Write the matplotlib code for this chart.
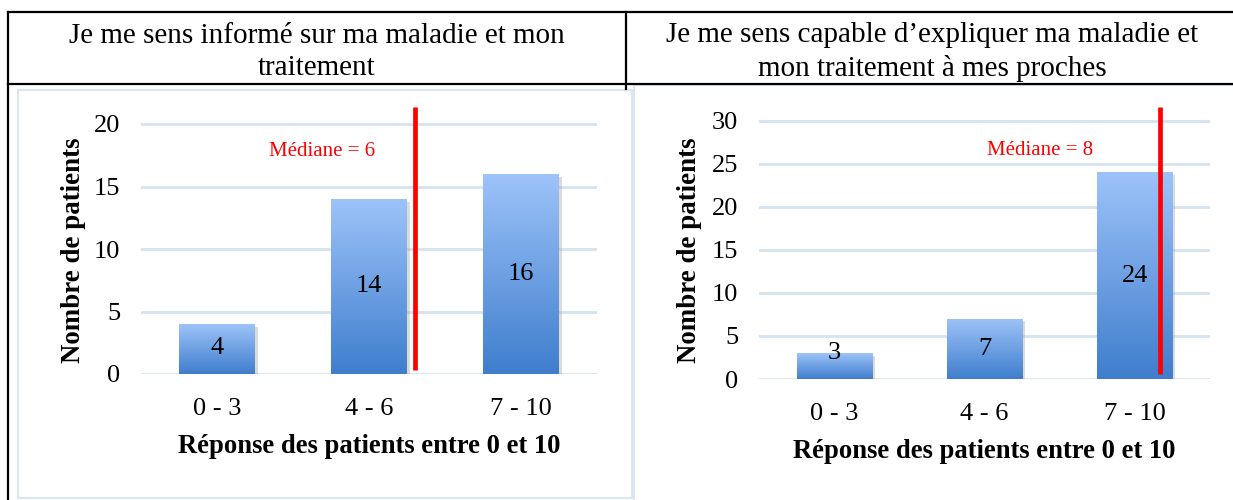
import numpy as np
import matplotlib
matplotlib.use("Agg")
import matplotlib.pyplot as plt
from matplotlib.lines import Line2D
from matplotlib.patches import Rectangle
from matplotlib.colors import LinearSegmentedColormap
import matplotlib.patheffects as pe

plt.rcParams["font.family"] = ["Liberation Serif", "DejaVu Serif"]

# données
categories = ["0 - 3", "4 - 6", "7 - 10"]
titles = ["Je me sens informé sur ma maladie et mon\ntraitement",
          "Je me sens capable d\u2019expliquer ma maladie et\nmon traitement à mes proches"]
counts_left = [4, 14, 16]
counts_right = [3, 7, 24]
medians = [6, 8]
median_x = [1.30, 2.17]      # position de la ligne rouge (en unités de catégories)
median_text_pos = [(0.69, 17.8), (1.37, 26.5)]
y_max = [21.6, 31.8]
y_ticks = [np.arange(0, 21, 5), np.arange(0, 31, 5)]

W, H = 1233, 500
fig = plt.figure(figsize=(W / 100, H / 100), dpi=100)


def fx(x):
    return x / W


def fy(y):
    return 1 - y / H


def fig_line(x0, y0, x1, y1, **kw):
    fig.add_artist(Line2D([fx(x0), fx(x1)], [fy(y0), fy(y1)], transform=fig.transFigure, **kw))


# cadres des graphiques (bordure bleu clair)
panel_col = "#dbe6f3"
for (x0, y0, x1, y1) in [(18, 90, 632, 498), (634, 85, 1240, 505)]:
    fig.add_artist(Rectangle((fx(x0), fy(y1)), fx(x1 - x0), (y1 - y0) / H, transform=fig.transFigure,
                             fill=False, ec=panel_col, lw=1.5))

# lignes du tableau
tk = dict(color="black", lw=1.6)
fig_line(8, 12, 1233, 12, **tk)
fig_line(8, 84, 1233, 84, **tk)
fig_line(8, 12, 8, 500, **tk)
fig_line(626, 12, 626, 89, **tk)

# titres de colonnes
fig.text(fx(317), fy(52), titles[0], ha="center", va="center", fontsize=21, linespacing=1.32)
fig.text(fx(932), fy(52), titles[1], ha="center", va="center", fontsize=21, linespacing=1.32)

cmap = LinearSegmentedColormap.from_list("bar_grad", ["#3f7ecd", "#9dc3f9"])
grad = np.linspace(0, 1, 256).reshape(-1, 1)

axes_px = [(141, 104, 597, 374), (759, 105, 1210, 379)]
datasets = [counts_left, counts_right]

for k, ax_box in enumerate(axes_px):
    x0, y0, x1, y1 = ax_box
    ax = fig.add_axes([fx(x0), fy(y1), fx(x1 - x0), (y1 - y0) / H])
    vals = datasets[k]
    xs = np.arange(len(categories))
    bars = ax.bar(xs, vals, width=0.5, color="#6a9ee0", zorder=2,
                  path_effects=[pe.SimplePatchShadow(offset=(2, -2), shadow_rgbFace="#999999", alpha=0.35),
                                pe.Normal()])
    for b in bars:
        bx, bw, bh = b.get_x(), b.get_width(), b.get_height()
        im = ax.imshow(grad, cmap=cmap, extent=(bx, bx + bw, 0, bh), origin="lower",
                       aspect="auto", zorder=3, interpolation="bicubic")
        im.set_clip_path(b)
    # étiquettes des barres (au centre, avec un minimum au-dessus de la base)
    px_per_unit = (y1 - y0) / y_max[k]
    for xi, v in zip(xs, vals):
        ylab = max(v / 2, 26 / px_per_unit)
        ax.text(xi, ylab, str(v), ha="center", va="center", fontsize=19, zorder=5)

    ax.set_xlim(-0.5, 2.5)
    ax.set_ylim(0, y_max[k])
    ax.set_yticks(y_ticks[k])
    ax.set_xticks(xs)
    ax.set_xticklabels(categories)
    ax.tick_params(axis="both", length=0, labelsize=19)
    ax.tick_params(axis="y", pad=15)
    ax.tick_params(axis="x", pad=17)
    ax.grid(axis="y", color="#d5e2f0", lw=2, zorder=0)
    ax.set_axisbelow(True)
    for s in ax.spines.values():
        s.set_visible(False)
    ax.set_facecolor("none")

    # ligne de la médiane
    ax.plot([median_x[k], median_x[k]], [0.3 if k == 0 else 0.6, y_max[k] - 0.2], color="#ff0000",
            lw=3.4, zorder=6, solid_capstyle="butt")
    tx, ty = median_text_pos[k]
    ax.text(tx, ty, "Médiane = %d" % medians[k], color="#ff0000", ha="center", va="center", fontsize=15)

    ax.set_ylabel("Nombre de patients", fontsize=19.4, fontweight="bold")
    ax.yaxis.set_label_coords(-0.149 if k == 0 else -0.153, 0.46 if k == 0 else 0.47)
    ax.yaxis.label.set_va("center")
    ax.set_xlabel("Réponse des patients entre 0 et 10", fontsize=19.2, fontweight="bold")
    ax.xaxis.set_label_coords(0.5, -0.27 if k == 0 else -0.266)
    ax.xaxis.label.set_va("center")

fig.savefig("out.png", dpi=100)
